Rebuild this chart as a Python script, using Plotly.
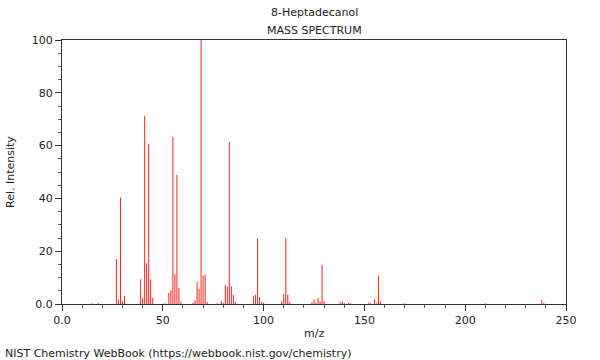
import plotly.graph_objects as go

# m/z values and relative intensities
mz = [15, 18, 27, 28, 29, 30, 31, 39, 40, 41, 42, 43, 44, 45,
      51, 53, 54, 55, 56, 57, 58, 59, 65, 66, 67, 68, 69, 70, 71, 72,
      77, 79, 80, 81, 82, 83, 84, 85, 86, 95, 96, 97, 98, 99, 100,
      109, 110, 111, 112, 113, 124, 125, 126, 127, 128, 129, 130,
      138, 139, 140, 142, 143, 152, 153, 155, 156, 157, 158, 170, 210, 238, 239]
intensity = [0.3, 0.5, 17.0, 1.7, 40.3, 1.1, 3.0, 9.4, 2.2, 71.2, 15.4, 60.8, 9.3, 2.3,
             0.3, 4.2, 5.2, 63.3, 11.3, 48.9, 6.1, 0.9, 0.5, 1.4, 8.5, 5.8, 100.0, 10.7, 11.2, 0.8,
             0.3, 1.1, 0.4, 7.2, 6.6, 61.4, 6.7, 3.4, 0.8, 3.0, 3.5, 24.8, 2.6, 0.8, 0.5,
             1.1, 3.8, 25.1, 3.4, 0.8, 0.7, 1.6, 0.5, 2.3, 1.0, 14.8, 1.1,
             0.6, 1.0, 0.4, 0.4, 0.3, 0.3, 0.3, 1.8, 0.3, 10.8, 1.0, 0.3, 0.3, 1.5, 0.3]

x_tick_vals = [0, 50, 100, 150, 200, 250]
x_tick_text = ["0.0", "50", "100", "150", "200", "250"]
y_tick_vals = [0, 20, 40, 60, 80, 100]
y_tick_text = ["0.0", "20", "40", "60", "80", "100"]

title_line1 = "8-Heptadecanol"
title_line2 = "MASS SPECTRUM"
x_title = "m/z"
y_title = "Rel. Intensity"
footer = "NIST Chemistry WebBook (https://webbook.nist.gov/chemistry)"

# stick spectrum built from the data
xs, ys = [], []
for m, i in zip(mz, intensity):
    xs += [m, m, None]
    ys += [0, i, None]

FONT = "DejaVu Sans"
W, H = 600, 360
L, R, T, B = 62, 34, 40, 56
pw, ph = W - L - R, H - T - B

fig = go.Figure()
fig.add_trace(go.Scatter(x=xs, y=ys, mode="lines",
                         line=dict(color="#ff2020", width=1),
                         hoverinfo="skip", showlegend=False))

axis_common = dict(showline=True, linecolor="#333333", linewidth=1, mirror=True,
                   showgrid=False, zeroline=False, ticks="outside", ticklen=6,
                   tickcolor="#333333", tickfont=dict(family=FONT, size=11, color="#222222"))

fig.update_layout(
    width=W, height=H,
    margin=dict(l=L, r=R, t=T, b=B),
    paper_bgcolor="white", plot_bgcolor="white",
    font=dict(family=FONT, size=11, color="#222222"),
    xaxis=dict(range=[0, 250], tickvals=x_tick_vals, ticktext=x_tick_text,
               minor=dict(dtick=10, tick0=0, ticks="outside", ticklen=3, tickcolor="#555555"),
               **axis_common),
    yaxis=dict(range=[0, 100], tickvals=y_tick_vals, ticktext=y_tick_text,
               minor=dict(dtick=5, tick0=0, ticks="outside", ticklen=3, tickcolor="#555555"),
               **axis_common),
)

ann = [
    dict(text=title_line1, x=0.5, y=1 + (T - 13) / ph),
    dict(text=title_line2, x=0.5, y=1 + (T - 30) / ph),
    dict(text=x_title, x=0.5, y=-(333 - (T + ph)) / ph),
]
for a in ann:
    fig.add_annotation(xref="paper", yref="paper", showarrow=False,
                       xanchor="center", yanchor="middle",
                       font=dict(family=FONT, size=11, color="#222222"), **a)

fig.add_annotation(text=y_title, xref="paper", yref="paper", x=(10 - L) / pw, y=0.5,
                   showarrow=False, textangle=-90, xanchor="center", yanchor="middle",
                   font=dict(family=FONT, size=11, color="#222222"))
fig.add_annotation(text=footer, xref="paper", yref="paper", x=(3 - L) / pw,
                   y=-(353 - (T + ph)) / ph, showarrow=False, xanchor="left", yanchor="middle",
                   font=dict(family=FONT, size=11, color="#222222"))

fig.write_html("out.html", config={"displayModeBar": False},
               post_script="document.body.style.margin='0';document.body.style.overflow='hidden';")
